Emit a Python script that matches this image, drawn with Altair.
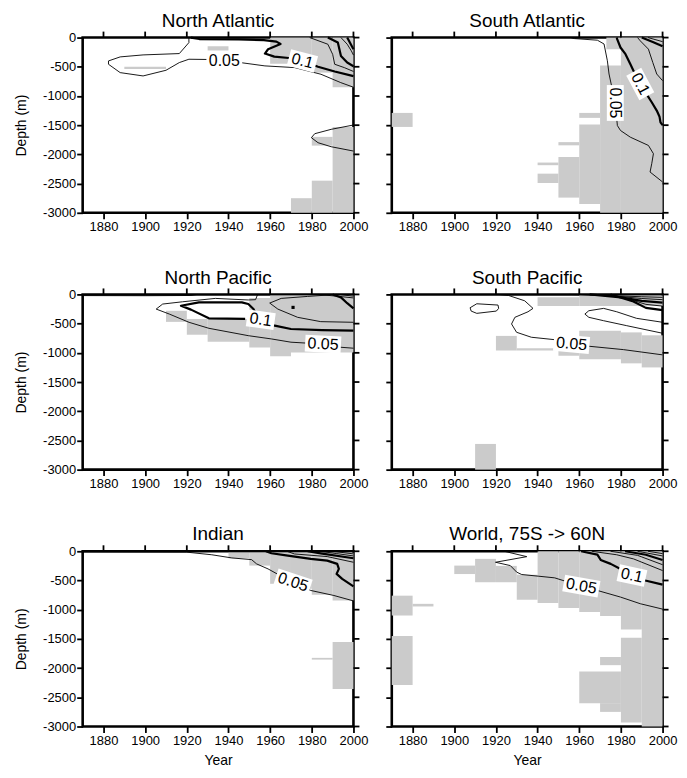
import altair as alt
import pandas as pd

# ---------------- data ----------------
X_DOMAIN = [1870, 2000]
Y_DOMAIN = [-3000, 0]
YEAR_TICKS = [1880, 1900, 1920, 1940, 1960, 1980, 2000]
DEPTH_TICKS = [0, -500, -1000, -1500, -2000, -2500, -3000]

# gray cells: (year0, year1, depth_top, depth_bottom)
NA_RECTS = [(1930, 1940, -150, -220), (1890, 1910, -500, -540), (1960, 1980, 0, -450),
            (1980, 1990, 0, -600), (1990, 2000, 0, -850), (1990, 2000, -1530, -3000),
            (1980, 1990, -1700, -1850), (1980, 1990, -2450, -3000), (1970, 1980, -2750, -3000)]
SA_RECTS = [(1870, 1880, -1290, -1530), (1960, 1970, -1290, -1375), (1960, 1970, -1490, -2850),
            (1950, 1960, -1790, -1845), (1950, 1960, -2045, -2740), (1940, 1950, -2140, -2185),
            (1940, 1950, -2330, -2490), (1970, 1980, -480, -3000), (1973, 1980, 0, -200),
            (1980, 2000, 0, -3000)]
NP_RECTS = [(1910, 1920, -280, -470), (1920, 1930, -420, -690), (1930, 1950, -420, -810),
            (1950, 1960, -60, -910), (1960, 1970, -20, -1060), (1970, 2000, -20, -995)]
SP_RECTS = [(1910, 1920, -2560, -3000), (1920, 1930, -710, -960), (1930, 1950, -920, -960),
            (1950, 1960, -820, -1050), (1960, 1980, -620, -1110), (1980, 1990, -650, -1180),
            (1990, 2000, -700, -1250), (1940, 1960, -50, -200), (1960, 2000, -20, -200)]
IN_RECTS = [(1940, 1950, -25, -120), (1950, 1960, -25, -245), (1960, 1970, -25, -557),
            (1970, 1980, -25, -642), (1980, 1990, -25, -744), (1990, 2000, -25, -842),
            (1990, 2000, -1552, -2360), (1980, 1990, -1825, -1855)]
WD_RECTS = [(1870, 1880, -760, -1100), (1870, 1880, -1450, -2290), (1880, 1890, -900, -945),
            (1900, 1910, -245, -390), (1910, 1920, -130, -530), (1920, 1930, -250, -530),
            (1930, 1940, -400, -830), (1940, 1950, 0, -887), (1950, 1960, 0, -972),
            (1960, 1970, 0, -1040), (1970, 1980, 0, -1110), (1980, 1990, 0, -1340),
            (1990, 2000, 0, -3000), (1980, 1990, -1480, -2930), (1970, 1980, -1810, -1950),
            (1960, 1980, -2060, -2600), (1970, 1980, -2600, -2750)]

# contour lines: (thick?, [(year, depth), ...])
NA_LINES = [
    (0, [(1921, 0), (1921, -86), (1916.4, -274), (1899, -297), (1888, -331), (1882.4, -400),
         (1882.4, -457), (1888, -600), (1899, -657), (1910, -560), (1916.4, -428), (1921, -371),
         (1930, -375), (1938, -395), (1945.7, -428), (1957.5, -485), (1971.8, -514),
         (1984.4, -628), (1993.9, -771), (2000, -850)]),
    (0, [(2000, -1497), (1989.3, -1571), (1981.4, -1646), (1979.8, -1714), (1983, -1800),
         (1989.3, -1869), (2000, -1943)]),
    (1, [(1922, 0), (1926, -25), (1945, -32), (1957, -45), (1963, -70), (1965, -110),
         (1959, -200), (1957.5, -274), (1962, -326), (1969, -350), (1975.5, -400),
         (1983, -500), (1991, -580), (2000, -660)]),
    (0, [(1979, 0), (1987.7, -114), (1990, -286), (1991, -457), (1995.6, -514), (2000, -580)]),
    (1, [(1987.7, 0), (1992.5, -86), (1994, -314), (1997, -428), (2000, -490)]),
    (0, [(1994, 0), (1997, -114), (1999, -229), (2000, -300)]),
    (1, [(1997, 0), (2000, -200)]),
]
SA_LINES = [
    (0, [(1956, 0), (1957.7, -17), (1968.7, -45), (1971.9, -110), (1973.5, -397),
         (1974.3, -624), (1977.3, -1125), (1978.3, -1506), (1979.8, -1591), (1984.5, -1705),
         (1993.2, -1847), (1995.6, -1988), (1994.8, -2159), (1994, -2302), (2000, -2472)]),
    (1, [(1978, 0), (1978.2, -27), (1979.8, -170), (1982.2, -284), (1984.5, -454),
         (1987, -640), (1989.3, -795), (1992, -950), (1994.8, -1108), (1997.2, -1250),
         (1998.5, -1350), (1999, -1450), (2000, -1500)]),
    (0, [(1988, 0), (1989.3, -56), (1993.2, -198), (1995.3, -426), (1997.2, -624), (2000, -738)]),
    (1, [(1990, 0), (1995.6, -80), (2000, -150)]),
    (0, [(1993, 0), (2000, -70)]),
]
NP_LINES = [
    (0, [(1870, -20), (1900, -22), (1922, -18), (1925, 0)]),
    (0, [(1954, 0), (1953, -90), (1949.5, -95), (1933.7, -68), (1917.9, -126), (1908.4, -165),
         (1905.3, -251), (1911.6, -336), (1921.1, -478), (1930.6, -580), (1949.5, -706),
         (1960.6, -762), (1970, -818), (1985.4, -850), (1993.7, -904), (2000, -921)]),
    (1, [(1948, -420), (1930.6, -409), (1922, -260), (1917.2, -194), (1925.8, -136),
         (1946.4, -136), (1949.5, -165), (1952, -250), (1954, -400)]),
    (1, [(1956, -440), (1962.2, -535), (1970, -592), (1985, -610), (2000, -620)]),
    (0, [(1992, 0), (1978, -34), (1965.3, -68), (1959.8, -148), (1963.7, -251), (1973.2, -392),
         (1984.3, -466), (2000, -477)]),
    (1, [(1990, 0), (1994, -50), (1997, -150), (2000, -240)]),
    (0, [(1983, 0), (1992, -30), (2000, -60)]),
    (0, [(1993, 0), (2000, -30)]),
]
SP_LINES = [
    (0, [(1907.6, -228), (1910.8, -160), (1921, -182), (1921.3, -239), (1920.2, -285),
         (1910.8, -324), (1908.1, -285), (1907.6, -228)]),
    (0, [(1921, 0), (1926, -17), (1933.8, -109), (1937.8, -239), (1935.4, -297), (1929.1, -392),
         (1927.5, -506), (1929.9, -648), (1937, -733), (1948, -774), (1956.3, -847),
         (1964.6, -887), (1981.2, -945), (2000, -1035)]),
    (0, [(2000, -477), (1987.5, -409), (1978, -297), (1971.7, -239), (1964.6, -279),
         (1962.7, -336), (1964.6, -392), (1971.7, -450), (1982.8, -535), (2000, -665)]),
    (0, [(1955, 0), (1975, -20), (1990, -40), (2000, -50)]),
    (0, [(1960, 0), (1978, -30), (1990, -70), (2000, -90)]),
    (1, [(1965, 0), (1980, -50), (1990, -110), (2000, -140)]),
    (0, [(1970, 0), (1983, -70), (1992, -170), (2000, -200)]),
    (1, [(1975, 0), (1986, -120), (1992, -230), (2000, -270)]),
]
IN_LINES = [
    (0, [(1870, -12), (1920, -15), (1932, -60), (1941.6, -114), (1951.1, -143), (1953.5, -216),
         (1959, -302), (1965, -420), (1970.9, -529), (1979.5, -671), (1990.6, -757), (2000, -850)]),
    (1, [(1958, 0), (1960.6, -34), (1968.5, -74), (1979.5, -131), (1987.4, -160), (1992.2, -216),
         (1993, -302), (1991.9, -387), (1994.6, -472), (2000, -600)]),
    (0, [(1968, 0), (1971.7, -46), (1987.4, -91), (2000, -188)]),
    (1, [(1978, 0), (1985, -40), (2000, -120)]),
    (0, [(1984, 0), (1992, -40), (2000, -80)]),
    (0, [(1990, 0), (2000, -45)]),
]
WD_LINES = [
    (0, [(1924, 0), (1934.8, -92), (1919.8, -188), (1926.9, -245), (1930, -358), (1932.4, -398),
         (1940.3, -426), (1948.2, -455), (1960.9, -597), (1968.7, -671), (1979.8, -784),
         (1989.3, -898), (2000, -990)]),
    (1, [(1960.9, 0), (1968.7, -57), (1970.3, -148), (1975.1, -216), (1979.8, -302),
         (1985.3, -415), (1991.7, -500), (2000, -570)]),
    (0, [(1966, 0), (1978, -60), (1986.1, -131), (2000, -330)]),
    (0, [(1975, 0), (1988, -70), (2000, -230)]),
    (1, [(1982, 0), (1992, -60), (2000, -150)]),
    (0, [(1988, 0), (2000, -80)]),
    (0, [(1993, 0), (2000, -40)]),
]

# contour labels: (text, year, depth, angle)
NA_LABELS = [("0.05", 1938, -395, 0), ("0.1", 1975.5, -400, 15)]
SA_LABELS = [("0.05", 1977.3, -1120, 90), ("0.1", 1989.3, -795, 62)]
NP_LABELS = [("0.1", 1955.5, -433, 8), ("0.05", 1985.4, -850, 3)]
SP_LABELS = [("0.05", 1956.3, -847, 5)]
IN_LABELS = [("0.05", 1971, -529, 18)]
WD_LABELS = [("0.05", 1961, -597, 10), ("0.1", 1985.3, -415, 12)]

NP_DOTS = [(1971, -222)]

TITLES = ["North Atlantic", "South Atlantic", "North Pacific", "South Pacific",
          "Indian", "World, 75S -> 60N"]

# ---------------- styling ----------------
W, H = 272, 176
GRAY = "#cbcbcb"
FONT = "Liberation Sans"
XS = alt.Scale(domain=X_DOMAIN, nice=False, zero=False)
YS = alt.Scale(domain=Y_DOMAIN, nice=False, zero=False)
LBL = "datum.value + ''"
LFS = 16  # contour label font size
TICK = 6
TW = 1.8


def panel(title, rects, lines, labels, left, bottom, dots=None):
    xa = alt.Axis(values=YEAR_TICKS, title="Year" if bottom else None, labelExpr=LBL,
                  labelPadding=2, titlePadding=6, labelOverlap=False, labelFlush=False)
    ya = alt.Axis(values=DEPTH_TICKS, title="Depth (m)" if left else None, labels=left,
                  labelExpr=LBL, labelPadding=1, titlePadding=14, labelOverlap=False,
                  labelFlush=False)
    rdf = pd.DataFrame(rects, columns=["y0", "y1", "d0", "d1"])
    rows = []
    for i, (thick, pts) in enumerate(lines):
        for k, (yr, d) in enumerate(pts):
            rows.append({"line": i, "ord": k, "year": yr, "depth": d,
                         "w": 2.2 if thick else 0.9})
    ldf = pd.DataFrame(rows)
    lab = []
    for t, yr, d, a in labels:
        bw = len(t) * 0.5 * LFS + 4
        bh = LFS + 1.0
        h = bh / bw
        lab.append({"text": t, "year": yr, "depth": d, "angle": a, "size": bw * bw,
                    "shape": f"M-1,-{h:.3f}L1,-{h:.3f}L1,{h:.3f}L-1,{h:.3f}Z"})
    bdf = pd.DataFrame(lab)
    xt_df = pd.DataFrame({"v": YEAR_TICKS})
    yt_df = pd.DataFrame({"v": DEPTH_TICKS})

    r = alt.Chart(rdf).mark_rect(color=GRAY).encode(
        x=alt.X("y0:Q", scale=XS, axis=xa), x2="y1",
        y=alt.Y("d0:Q", scale=YS, axis=ya), y2="d1")
    ln = alt.Chart(ldf).mark_line(color="black", strokeJoin="round").encode(
        x=alt.X("year:Q", scale=XS, axis=xa), y=alt.Y("depth:Q", scale=YS, axis=ya),
        detail="line:N", order="ord:Q", strokeWidth=alt.StrokeWidth("w:Q", scale=None))
    box = alt.Chart(bdf).mark_point(filled=True, color="white", opacity=1, strokeWidth=0).encode(
        x=alt.X("year:Q", scale=XS, axis=xa), y=alt.Y("depth:Q", scale=YS, axis=ya),
        shape=alt.Shape("shape:N", scale=None), size=alt.Size("size:Q", scale=None),
        angle=alt.Angle("angle:Q", scale=None))
    txt = alt.Chart(bdf).mark_text(font=FONT, fontSize=LFS, color="black").encode(
        x=alt.X("year:Q", scale=XS, axis=xa), y=alt.Y("depth:Q", scale=YS, axis=ya),
        text="text:N", angle=alt.Angle("angle:Q", scale=None))
    top_ticks = alt.Chart(xt_df).mark_rule(color="black", strokeWidth=TW, clip=False).encode(
        x=alt.X("v:Q", scale=XS, axis=xa), y=alt.value(-TICK), y2=alt.value(0))
    right_ticks = alt.Chart(yt_df).mark_rule(color="black", strokeWidth=TW, clip=False).encode(
        y=alt.Y("v:Q", scale=YS, axis=ya), x=alt.value(W), x2=alt.value(W + TICK))
    layers = [r, ln, box, txt, top_ticks, right_ticks]
    if dots:
        ddf = pd.DataFrame(dots, columns=["year", "depth"])
        layers.append(alt.Chart(ddf).mark_square(color="black", size=10, opacity=1).encode(
            x=alt.X("year:Q", scale=XS, axis=xa), y=alt.Y("depth:Q", scale=YS, axis=ya)))
    return alt.layer(*layers).properties(
        width=W, height=H,
        title=alt.TitleParams(title, fontSize=19, font=FONT, fontWeight="normal", offset=0))


charts = [
    panel(TITLES[0], NA_RECTS, NA_LINES, NA_LABELS, True, False),
    panel(TITLES[1], SA_RECTS, SA_LINES, SA_LABELS, False, False),
    panel(TITLES[2], NP_RECTS, NP_LINES, NP_LABELS, True, False, NP_DOTS),
    panel(TITLES[3], SP_RECTS, SP_LINES, SP_LABELS, False, False),
    panel(TITLES[4], IN_RECTS, IN_LINES, IN_LABELS, True, True),
    panel(TITLES[5], WD_RECTS, WD_LINES, WD_LABELS, False, True),
]

chart = alt.concat(*charts, columns=2, spacing={"row": 82, "column": 38.5}, bounds="flush")
chart = chart.properties(padding={"left": 5, "top": 0, "right": 0, "bottom": 0})
chart = chart.configure_view(stroke="black", strokeWidth=2.6).configure_axis(
    labelFont=FONT, titleFont=FONT, labelFontSize=13, titleFontSize=14, titleFontWeight="normal",
    labelColor="black", titleColor="black", tickColor="black", tickSize=TICK, tickWidth=TW,
    domain=False, grid=False).configure_title(font=FONT, color="black")

chart.save("out.html", embed_options={"renderer": "svg", "actions": False})
